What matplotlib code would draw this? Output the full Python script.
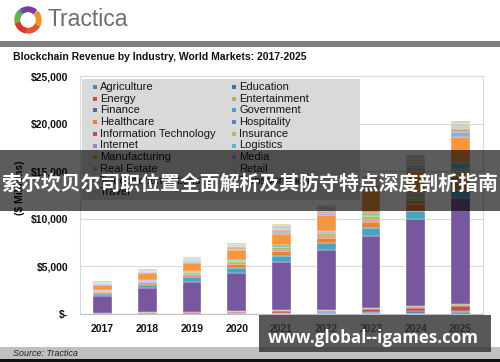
import matplotlib
matplotlib.use('Agg')
import matplotlib.pyplot as plt
from matplotlib.patches import Rectangle, Wedge
import numpy as np

## Blockchain revenue by industry (Tractica), stacked columns, $ millions

years = ['2017', '2018', '2019', '2020', '2021', '2022', '2023', '2024', '2025']

agriculture = [30, 40, 50, 60, 70, 90, 120, 150, 200]
education = [20, 30, 40, 50, 60, 70, 90, 120, 150]
energy = [50, 80, 90, 120, 150, 200, 300, 350, 500]
entertainment = [40, 50, 60, 70, 90, 110, 130, 180, 200]
finance = [1700, 2500, 3150, 4050, 5050, 6250, 7550, 9200, 11150]
government = [250, 350, 500, 500, 650, 700, 850, 850, 850]
healthcare = [200, 250, 250, 350, 550, 600, 600, 700, 900]
hospitality = [20, 30, 30, 40, 50, 60, 80, 100, 150]
info_tech = [50, 60, 60, 80, 100, 120, 150, 200, 300]
insurance = [100, 120, 150, 200, 250, 300, 400, 450, 600]
internet = [20, 30, 40, 40, 60, 80, 100, 150, 250]
logistics = [50, 60, 80, 100, 120, 150, 200, 300, 650]
manufacturing = [500, 700, 850, 1050, 1250, 1650, 2300, 2300, 2700]
media = [80, 80, 110, 150, 200, 250, 350, 350, 550]
real_estate = [70, 70, 90, 130, 180, 200, 300, 300, 300]
retail = [90, 100, 150, 180, 250, 250, 350, 350, 300]
telecom = [70, 50, 100, 120, 150, 150, 200, 200, 200]
transport = [60, 50, 80, 100, 100, 120, 150, 150, 150]
travel = [100, 50, 120, 110, 120, 150, 280, 300, 200]

# stacking order = legend order (read row by row)
names = ['Agriculture', 'Education', 'Energy', 'Entertainment', 'Finance',
         'Government', 'Healthcare', 'Hospitality', 'Information Technology',
         'Insurance', 'Internet', 'Logistics', 'Manufacturing', 'Media',
         'Real Estate', 'Retail', 'Telecommunications', 'Transportation', 'Travel']
series = [agriculture, education, energy, entertainment, finance, government,
          healthcare, hospitality, info_tech, insurance, internet, logistics,
          manufacturing, media, real_estate, retail, telecom, transport, travel]
colors = ['#4f81bd', '#3f6fae', '#c0504d', '#b3ad7a', '#77589f', '#4ba3c0',
          '#e2843f', '#5a86c0', '#d04a4a', '#a7c25a', '#9c7fcc', '#4bbcd0',
          '#f7963f', '#8eaed8', '#d69a96', '#c3d69b', '#c7b2c6', '#b9cbd3', '#dcc4a4']

W, H = 500, 362
fig = plt.figure(figsize=(5, 3.62), dpi=100)
fig.patch.set_facecolor('white')

def px(x, y):
    return x / W, 1 - y / H

# background layer: logo, title, source strip
bg = fig.add_axes([0, 0, 1, 1], zorder=0)
bg.set_xlim(0, W)
bg.set_ylim(H, 0)
bg.axis('off')

logo = [(100, 165, '#d9362b'), (30, 95, '#e4572e'), (-40, 25, '#f39224'),
        (-125, -50, '#7b3f98'), (-165, -130, '#2f8fce'), (170, 220, '#6ab04c')]
for a1, a2, c in logo:
    bg.add_patch(Wedge((28, 20), 13, a1, a2, width=4.5, color=c))
bg.text(48, 20, 'Tractica', fontsize=16.5, color='#6d6e71', family='Liberation Sans',
        va='center', ha='left')
bg.add_patch(Rectangle((0, 41), W, 5.5, color='#7f7f7f', lw=0))
bg.text(13, 57, 'Blockchain Revenue by Industry, World Markets: 2017-2025', fontsize=7.5,
        fontweight='bold', family='Liberation Sans', va='center', color='#111111')
bg.add_patch(Rectangle((0, 347), W, 12, color='#c0c0c0', lw=0))
bg.add_patch(Rectangle((0, 359), W, 3, color='#111111', lw=0))
bg.text(13, 353.5, 'Source: Tractica', fontsize=6.5, style='italic',
        family='Liberation Sans', va='center', color='#222222')
bg.text(20, 188, '($ Millions)', rotation=90, fontsize=7.5, fontweight='bold',
        family='Liberation Sans', va='center', ha='center', color='#111111')

# chart
l, b = px(80, 314)
ax = fig.add_axes([l, b, (483 - 80) / W, (314 - 76) / H], zorder=1)
x = np.arange(len(years))
bottom = np.zeros(len(years))
for vals, c in zip(series, colors):
    ax.bar(x, vals, 0.42, bottom=bottom, color=c, edgecolor='white', linewidth=0.25)
    bottom += np.array(vals)

ax.set_xlim(-0.5, 8.5)
ax.set_ylim(0, 25000)
ax.set_yticks(np.arange(0, 25001, 5000))
ax.set_yticklabels(['$-'] + ['${:,}'.format(v) for v in range(5000, 25001, 5000)])
ax.set_xticks(x)
ax.set_xticklabels(years)
ax.grid(axis='y', color='#d9d9d9', lw=0.8)
ax.set_axisbelow(True)
ax.tick_params(length=0, labelsize=7.5)
ax.tick_params(axis='y', pad=8.5)
ax.tick_params(axis='x', pad=7)
for lab in ax.get_xticklabels() + ax.get_yticklabels():
    lab.set_fontweight('bold')
    lab.set_family('Liberation Sans')
    lab.set_color('#111111')
for s in ['top', 'right', 'left']:
    ax.spines[s].set_color('#d9d9d9')
ax.spines['bottom'].set_color('#bfbfbf')

# legend, banner and watermark on top
top = fig.add_axes([0, 0, 1, 1], zorder=3)
top.set_xlim(0, W)
top.set_ylim(H, 0)
top.axis('off')
top.patch.set_alpha(0)

top.add_patch(Rectangle((82, 79), 278, 121, color='#d9d9d9', lw=0, zorder=1))
for i, (n, c) in enumerate(zip(names, colors)):
    row, col = divmod(i, 2)
    mx = 95 if col == 0 else 234
    my = 87 + row * 11.7
    top.add_patch(Rectangle((mx - 2, my - 2), 4, 4, color=c, lw=0, zorder=2))
    top.text(mx + 5, my, n, fontsize=8.0, family='Liberation Sans', va='center',
             ha='left', color='#151515', zorder=2)

top.add_patch(Rectangle((0, 150), W, 61, color='black', alpha=0.64, lw=0, zorder=5))
top.text(250, 183, '索尔坎贝尔司职位置全面解析及其防守特点深度剖析指南', fontsize=14.3,
         fontweight='bold', family=['Noto Sans CJK SC', 'DejaVu Sans'], color='white',
         ha='center', va='center', zorder=6)
top.add_patch(Rectangle((259, 315), 232, 37, color='#333333', alpha=0.82, lw=0, zorder=5))
top.text(373, 338, 'www.global--igames.com', fontsize=12.2, fontweight='bold',
         family='Open Sans', color='white', ha='center', va='center', zorder=6)

plt.savefig('out.png', dpi=100)
